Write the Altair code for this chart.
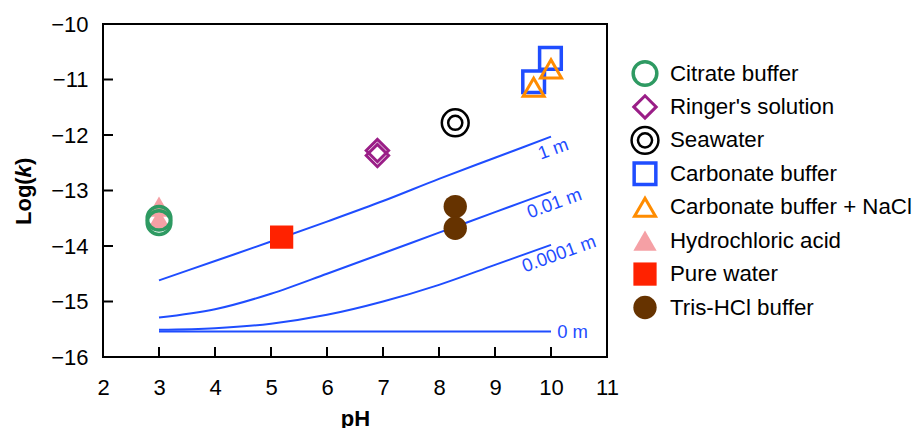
import altair as alt
import pandas as pd

FONT = "Liberation Sans"
W, H = 504, 333

# ---------------- data ----------------
X_TICKS = [2, 3, 4, 5, 6, 7, 8, 9, 10, 11]
Y_TICKS = [-16, -15, -14, -13, -12, -11, -10]

PH_GRID = [3, 4, 5, 6, 7, 8, 9, 10]
CURVE_1M = [-14.62, -14.27, -13.92, -13.56, -13.19, -12.79, -12.41, -12.03]
CURVE_001M = [-15.29, -15.14, -14.86, -14.50, -14.13, -13.76, -13.39, -13.02]
CURVE_00001M = [-15.51, -15.48, -15.40, -15.24, -15.00, -14.70, -14.34, -13.98]
CURVE_0M = [-15.54, -15.54, -15.54, -15.54, -15.54, -15.54, -15.54, -15.54]
CURVE_NAMES = ["1 m", "0.01 m", "0.0001 m", "0 m"]

# label anchors for the curve annotations (pH, log k)
LABEL_PH = [10.04, 10.06, 10.14, 10.11]
LABEL_LOGK = [-12.25, -13.23, -14.14, -15.55]

SERIES = [
    "Citrate buffer",
    "Ringer's solution",
    "Seawater",
    "Carbonate buffer",
    "Carbonate buffer + NaCl",
    "Hydrochloric acid",
    "Pure water",
    "Tris-HCl buffer",
]
CITRATE_PH = [3.0, 3.0]
CITRATE_K = [-13.50, -13.58]
RINGER_PH = [6.9, 6.9]
RINGER_K = [-12.28, -12.37]
SEAWATER_PH = [8.29]
SEAWATER_K = [-11.78]
CARB_PH = [9.69, 9.99]
CARB_K = [-11.04, -10.62]
CARB_NACL_PH = [9.69, 10.0]
CARB_NACL_K = [-11.14, -10.81]
HCL_PH = [3.0, 3.0]
HCL_K = [-13.29, -13.52]
PURE_PH = [5.19]
PURE_K = [-13.84]
TRIS_PH = [8.29, 8.29]
TRIS_K = [-13.29, -13.68]

POINTS = {
    "Citrate buffer": (CITRATE_PH, CITRATE_K),
    "Ringer's solution": (RINGER_PH, RINGER_K),
    "Seawater": (SEAWATER_PH, SEAWATER_K),
    "Carbonate buffer": (CARB_PH, CARB_K),
    "Carbonate buffer + NaCl": (CARB_NACL_PH, CARB_NACL_K),
    "Hydrochloric acid": (HCL_PH, HCL_K),
    "Pure water": (PURE_PH, PURE_K),
    "Tris-HCl buffer": (TRIS_PH, TRIS_K),
}

# ---------------- styles ----------------
BLUE = "#1f4dff"
STYLES = {
    "Citrate buffer": [dict(shape="circle", filled=False, stroke="#2e9a62", strokeWidth=3.5, size=560)],
    "Ringer's solution": [dict(shape="diamond", filled=False, stroke="#9a1e87", strokeWidth=3, size=500)],
    "Seawater": [
        dict(shape="circle", filled=False, stroke="#000000", strokeWidth=2.5, size=720),
        dict(shape="circle", filled=False, stroke="#000000", strokeWidth=2.5, size=200),
    ],
    "Carbonate buffer": [dict(shape="square", filled=False, stroke=BLUE, strokeWidth=3.5, size=470)],
    "Carbonate buffer + NaCl": [dict(shape="triangle-up", filled=False, stroke="#ff8c00", strokeWidth=3, size=440)],
    "Hydrochloric acid": [dict(shape="triangle-up", filled=True, fill="#f5a0a5", strokeWidth=0, size=540)],
    "Pure water": [dict(shape="square", filled=True, fill="#ff2200", strokeWidth=0, size=540)],
    "Tris-HCl buffer": [dict(shape="circle", filled=True, fill="#663300", strokeWidth=0, size=545)],
}
DRAW_ORDER = [
    "Hydrochloric acid", "Citrate buffer", "Ringer's solution", "Seawater",
    "Carbonate buffer", "Carbonate buffer + NaCl", "Pure water", "Tris-HCl buffer",
]

X = alt.X(
    "pH:Q",
    scale=alt.Scale(domain=[2, 11], nice=False, zero=False),
    axis=alt.Axis(
        values=X_TICKS, title="pH", labelPadding=20, labelFlush=False,
        titleY=51, titleBaseline="top",
        titleFontWeight="bold", titleFontSize=22, titleFont=FONT, titleColor="black",
    ),
)
Y = alt.Y(
    "logk:Q",
    scale=alt.Scale(domain=[-16, -10], nice=False, zero=False),
    axis=alt.Axis(values=Y_TICKS, title=None, labelPadding=15, labelFlush=False),
)

# ---------------- curves ----------------
curve_rows = []
for name, vals in zip(CURVE_NAMES, [CURVE_1M, CURVE_001M, CURVE_00001M, CURVE_0M]):
    for p, v in zip(PH_GRID, vals):
        curve_rows.append({"pH": p, "logk": v, "curve": name})
curves = alt.Chart(pd.DataFrame(curve_rows)).mark_line(
    color=BLUE, strokeWidth=2, interpolate="monotone"
).encode(x=X, y=Y, detail="curve:N")

lab_df = pd.DataFrame({"pH": LABEL_PH, "logk": LABEL_LOGK, "label": CURVE_NAMES})
rot_labels = alt.Chart(lab_df.iloc[:3]).mark_text(
    color=BLUE, font=FONT, fontSize=18.5, angle=340, align="center", baseline="middle"
).encode(x=X, y=Y, text="label:N")
flat_label = alt.Chart(lab_df.iloc[3:]).mark_text(
    color=BLUE, font=FONT, fontSize=18.5, align="left", baseline="middle"
).encode(x=X, y=Y, text="label:N")

# ---------------- inward ticks ----------------
xt = alt.Chart(pd.DataFrame({"pH": X_TICKS})).mark_rule(color="black", strokeWidth=2).encode(
    x=X, y=alt.value(H), y2=alt.value(H - 10)
)
yt = alt.Chart(pd.DataFrame({"logk": Y_TICKS})).mark_rule(color="black", strokeWidth=2).encode(
    y=Y, x=alt.value(0), x2=alt.value(10)
)

# ---------------- markers ----------------
marker_layers = []
for name in DRAW_ORDER:
    ph, k = POINTS[name]
    df = pd.DataFrame({"pH": ph, "logk": k})
    for st in STYLES[name]:
        marker_layers.append(alt.Chart(df).mark_point(opacity=1, **st).encode(x=X, y=Y))

# ---------------- y title Log(k) ----------------
tstyle = dict(font=FONT, fontSize=22, fontWeight="bold", angle=270, align="left",
              baseline="middle", color="black")
yt1 = alt.Chart(pd.DataFrame({"t": ["Log("]})).mark_text(**tstyle).encode(
    x=alt.value(-79), y=alt.value(201), text="t:N")
yt2 = alt.Chart(pd.DataFrame({"t": ["k"]})).mark_text(fontStyle="italic", **tstyle).encode(
    x=alt.value(-79), y=alt.value(153.4), text="t:N")
yt3 = alt.Chart(pd.DataFrame({"t": [")"]})).mark_text(**tstyle).encode(
    x=alt.value(-79), y=alt.value(141.0), text="t:N")

main = alt.layer(curves, rot_labels, flat_label, xt, yt, *marker_layers, yt1, yt2, yt3)

# ---------------- legend ----------------
LY = alt.Y("name:N", scale=alt.Scale(type="point", domain=SERIES, range=[49.5, 283.5], padding=0),
           axis=None)
legend_layers = []
for name in SERIES:
    df = pd.DataFrame({"name": [name]})
    for st in STYLES[name]:
        legend_layers.append(
            alt.Chart(df).mark_point(opacity=1, **st).encode(x=alt.value(542), y=LY)
        )
legend_layers.append(
    alt.Chart(pd.DataFrame({"name": SERIES})).mark_text(
        font=FONT, fontSize=22.3, align="left", baseline="middle", color="black"
    ).encode(x=alt.value(567), y=LY, text="name:N")
)
legend = alt.layer(*legend_layers)

chart = (
    alt.layer(main, legend)
    .resolve_scale(y="independent")
    .properties(
        width=W, height=H,
        autosize=alt.AutoSizeParams(type="none"),
        padding={"left": 95, "top": 16, "right": 307, "bottom": 71},
    )
    .configure_view(stroke="black", strokeWidth=2)
    .configure_axis(
        labelFont=FONT, labelFontSize=22, labelColor="black",
        domain=False, ticks=False, tickSize=0, grid=False,
    )
)

chart.save("out.html", embed_options={"renderer": "svg", "actions": False})
